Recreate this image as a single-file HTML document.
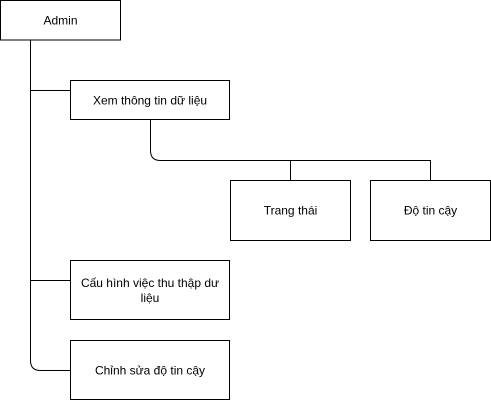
<!DOCTYPE html>
<html><head><style>
body{margin:0;background:#fff;width:491px;height:401px;overflow:hidden}
svg text{font-family:"Liberation Sans","Noto Sans CJK SC",sans-serif;font-size:12px;fill:#000}
</style></head><body>
<svg width="491" height="401" xmlns="http://www.w3.org/2000/svg">
<g fill="none" stroke="#000" stroke-width="1">
<path d="M30.5 40 V360.5 Q30.5 370.5 40.5 370.5 H70"/>
<path d="M30.5 90.5 H70"/>
<path d="M30.5 280.5 H70"/>
<path d="M150.5 120 V150.5 Q150.5 160.5 160.5 160.5 H430.5 V180"/>
<path d="M290.5 160.5 V180"/>
<rect x="0.5" y="0.5" width="120" height="39.5" fill="#fff"/>
<rect x="70.5" y="80.5" width="159" height="39" fill="#fff"/>
<rect x="230.5" y="180.5" width="120" height="60" fill="#fff"/>
<rect x="370.5" y="180.5" width="120" height="60" fill="#fff"/>
<rect x="70.5" y="260.5" width="159" height="59" fill="#fff"/>
<rect x="70.5" y="340.5" width="159" height="59" fill="#fff"/>
</g>
<text x="60.5" y="24.5" text-anchor="middle">Admin</text>
<text x="150" y="104.5" text-anchor="middle">Xem thông tin dữ liệu</text>
<text x="290.5" y="214.5" text-anchor="middle">Trang thái</text>
<text x="430.5" y="214.5" text-anchor="middle">Độ tin cậy</text>
<text x="150" y="287" text-anchor="middle">Cấu hình việc thu thập dư</text>
<text x="150" y="302" text-anchor="middle">liệu</text>
<text x="150" y="374.5" text-anchor="middle">Chỉnh sửa độ tin cậy</text>
</svg>
</body></html>
